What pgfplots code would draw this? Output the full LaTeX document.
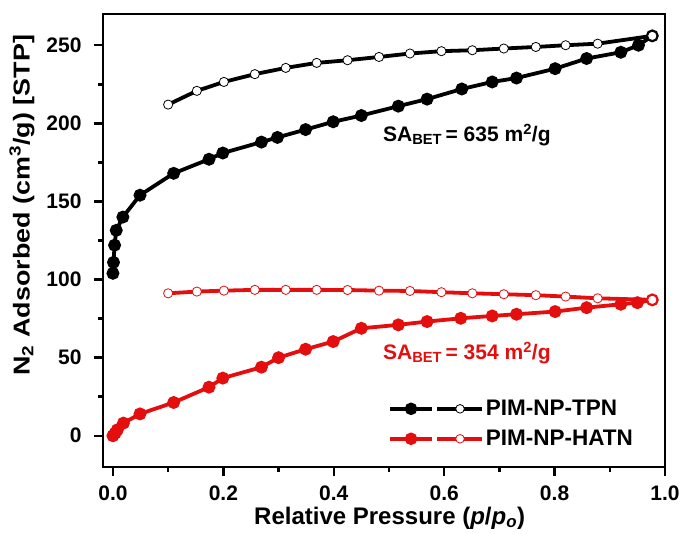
\documentclass[border=0pt]{standalone}
\usepackage{fontspec}
\setmainfont{Liberation Sans}
\usepackage{graphicx}
\usepackage{pgfplots}
\pgfplotsset{compat=1.18}
\usetikzlibrary{calc}
\definecolor{myred}{RGB}{228,14,14}
\newcommand{\bigf}{\bfseries\fontsize{21bp}{25bp}\selectfont}
\newcommand{\legf}{\bfseries\fontsize{22.5bp}{26bp}\selectfont}
\newcommand{\xlf}{\bfseries\fontsize{24bp}{28bp}\selectfont}
\newcommand{\ylf}{\bfseries\fontsize{23bp}{27bp}\selectfont}
\begin{document}
\begin{tikzpicture}
\begin{axis}[
  name=ax,
  scale only axis,
  width=562bp, height=453bp,
  xmin=-0.018, xmax=1.0,
  ymin=-20, ymax=270,
  xtick={0,0.2,...,1.0},
  ytick={0,50,...,250},
  minor x tick num=1,
  minor y tick num=1,
  tick pos=left,
  tick align=outside,
  major tick length=9bp,
  minor tick length=5bp,
  every tick/.style={line width=2.5bp, black},
  axis line style={line width=2.5bp},
  /pgf/number format/assume math mode=true,
  xticklabel style={yshift=-6bp, /pgf/number format/.cd, fixed, fixed zerofill, precision=1},
  yticklabel style={xshift=-9bp, /pgf/number format/.cd, fixed},
  tick label style={font=\bigf},
  every axis y label/.style={at={(rel axis cs:0,0.578)}, xshift=-81bp, rotate=90, anchor=center, font=\ylf},
  every axis x label/.style={at={(rel axis cs:0.51,0)}, yshift=-51bp, anchor=center, font=\xlf},
  xlabel={Relative Pressure (\textit{p}/\textit{p}\textsubscript{\textit{o}})},
  ylabel={\scalebox{1.17}[1]{N\textsubscript{2} Adsorbed (cm\textsuperscript{3}/g) [STP]}},
  legend style={at={(rel axis cs:0.507,0.152)}, anchor=north west, draw=none, fill=none,
    font=\legf, row sep=9bp, inner sep=0pt},
  legend cell align=left,
  clip=false,
]
\pgfplotsset{
  hyst/.style={legend image code/.code={
    \draw[line width=3.8bp,#1] (0bp,0bp) -- (42bp,0bp);
    \fill[#1] (21bp,0bp) circle (4.3bp);
    \draw[line width=3.8bp,#1] (47bp,0bp) -- (92bp,0bp);
    \draw[#1, fill=white, line width=0.8bp] (70bp,0bp) circle (4.3bp);
  }}
}
% TPN adsorption
\addplot[black, line width=3.8bp, mark=*, mark size=4.5bp, mark options={fill=black}, forget plot] coordinates {
(0.000,104) (0.001,111) (0.003,122) (0.006,131.5) (0.018,140) (0.049,154)
(0.110,168) (0.174,177) (0.199,181) (0.269,188) (0.298,191) (0.349,196)
(0.399,201) (0.450,205) (0.517,211) (0.569,215.5) (0.632,222) (0.687,226.5)
(0.731,229) (0.801,235) (0.858,241.5) (0.920,245.5) (0.952,250) (0.977,256)
};
% HATN adsorption
\addplot[myred, line width=3.8bp, mark=*, mark size=4.5bp, mark options={fill=myred}, forget plot] coordinates {
(0.000,0) (0.004,1.7) (0.008,3.8) (0.019,8.1) (0.049,14) (0.110,21.3)
(0.174,31.1) (0.199,36.9) (0.269,43.9) (0.300,50) (0.349,55.4) (0.399,60.3)
(0.450,68.8) (0.517,71) (0.569,73.1) (0.630,75.2) (0.687,76.7) (0.731,77.8)
(0.801,79.5) (0.858,82) (0.920,84.2) (0.950,85.2) (0.977,87)
};
% TPN desorption
\addplot[black, line width=3.8bp, mark=*, mark size=4.6bp, mark options={fill=white, line width=0.8bp}, hyst=black] coordinates {
(0.100,212) (0.152,220.8) (0.201,226.5) (0.257,231.5) (0.313,235.5) (0.369,238.7)
(0.425,240.4) (0.482,242.5) (0.538,244.7) (0.595,246.2) (0.651,246.8) (0.708,247.9)
(0.766,248.9) (0.820,250) (0.878,251) (0.977,256)
};
\addlegendentry{PIM-NP-TPN}
% HATN desorption
\addplot[myred, line width=3.8bp, mark=*, mark size=4.6bp, mark options={fill=white, line width=0.8bp}, hyst=myred] coordinates {
(0.100,91.2) (0.152,92.3) (0.201,92.9) (0.257,93.4) (0.313,93.4) (0.369,93.4)
(0.425,93.3) (0.482,92.9) (0.538,92.7) (0.595,91.9) (0.651,91.2) (0.708,90.6)
(0.766,90) (0.820,89.1) (0.878,88) (0.977,87)
};
\addlegendentry{PIM-NP-HATN}
\node[anchor=west, font=\bigf, black, inner sep=0pt] at (axis cs:0.489,192.5) {SA\textsubscript{BET}\,= 635 m\textsuperscript{2}/g};
\node[anchor=west, font=\bigf, myred, inner sep=0pt] at (axis cs:0.489,53) {SA\textsubscript{BET}\,= 354 m\textsuperscript{2}/g};
\end{axis}
\path ($(ax.south west)+(-103bp,-67bp)$) rectangle ($(ax.south west)+(582bp,467bp)$);
\end{tikzpicture}
\end{document}
